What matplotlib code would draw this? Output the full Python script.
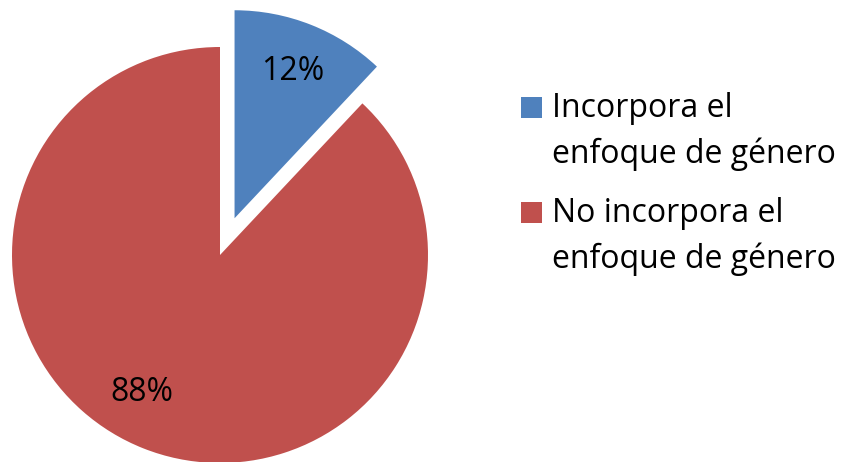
import matplotlib.pyplot as plt
from matplotlib.patches import Rectangle

plt.rcParams['font.family'] = ['Open Sans', 'DejaVu Sans']

labels = ['Incorpora el\nenfoque de género', 'No incorpora el\nenfoque de género']
values = [12, 88]
colors = ['#4F81BD', '#C0504D']

W, H = 843, 462
R = 208.0          # pie radius in pixels
cx, cy = 220, 255  # pie centre (pixels from top-left)
fs = 23

fig = plt.figure(figsize=(W / 100, H / 100), dpi=100)
ax = fig.add_axes([0, 0, 1, 1])

wedges, texts, autotexts = ax.pie(values, colors=colors, explode=[0.19, 0],
                                  startangle=90, counterclock=False,
                                  autopct='%1.0f%%', pctdistance=0.76,
                                  wedgeprops=dict(linewidth=0),
                                  textprops=dict(fontsize=fs, color='black'))

# Excel puts the large slice label a bit further round
autotexts[1].set_position((-0.375, -0.66))

ax.set_xlim(-cx / R, (W - cx) / R)
ax.set_ylim(-(H - cy) / R, cy / R)
ax.set_aspect('equal')
ax.axis('off')

# legend drawn by hand so the square sits on the first text line
baselines = [117, 222]
for lab, col, yb in zip(labels, colors, baselines):
    fig.patches.append(Rectangle((521 / W, 1 - (yb + 0.5) / H), 21 / W, 20.5 / H,
                                 transform=fig.transFigure, facecolor=col,
                                 edgecolor='none'))
    for i, line in enumerate(lab.split('\n')):
        fig.text(552 / W, 1 - (yb + 46 * i) / H, line, fontsize=fs,
                 va='baseline', ha='left', transform=fig.transFigure)

fig.savefig('out.png', dpi=100)
